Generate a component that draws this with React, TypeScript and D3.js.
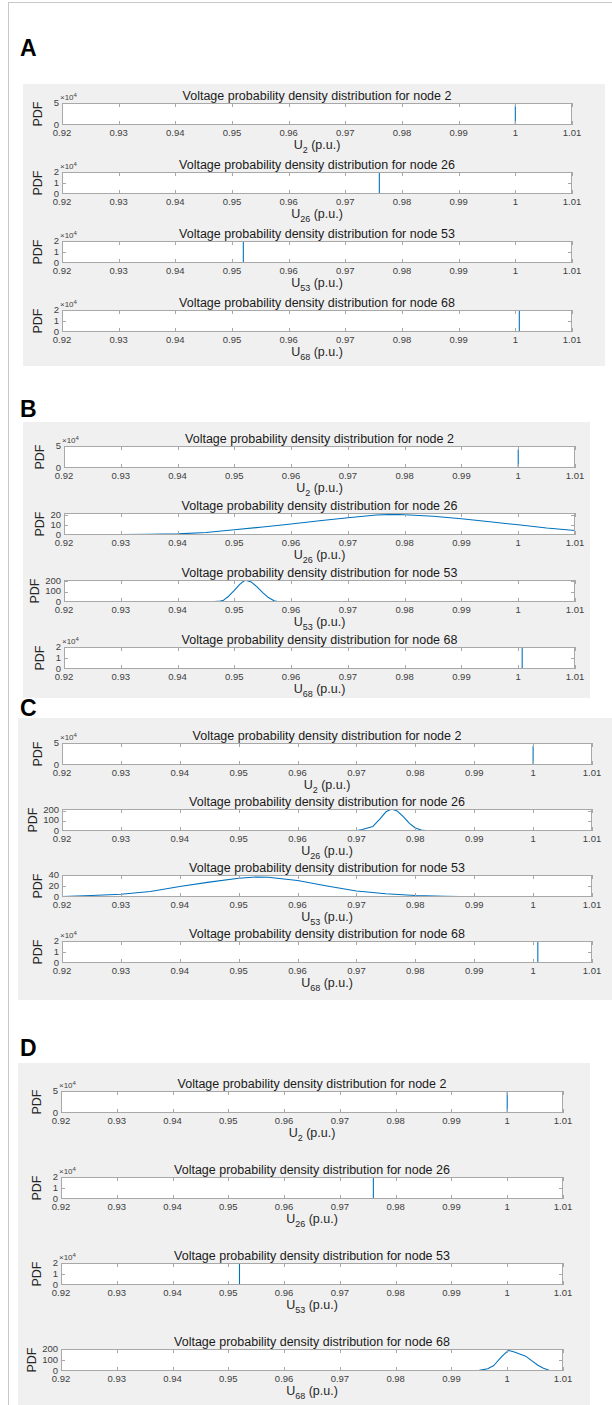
import * as d3 from 'd3';
import { useEffect, useRef } from 'react';

const W = 612;
const H = 1405;
const FONT = 'Liberation Sans, Arial, sans-serif';

// x axis (voltage, p.u.)
const xTicks = [0.92, 0.93, 0.94, 0.95, 0.96, 0.97, 0.98, 0.99, 1.0, 1.01];
const xTickLabels = ['0.92', '0.93', '0.94', '0.95', '0.96', '0.97', '0.98', '0.99', '1', '1.01'];
const nodes = [2, 26, 53, 68];
const panelLabels = ['A', 'B', 'C', 'D'];

// Panel A: all spikes
const a2 = [[1.0, 0], [1.0, 46000]];
const a26 = [[0.976, 0], [0.976, 20000]];
const a53 = [[0.952, 0], [0.952, 20000]];
const a68 = [[1.0007, 0], [1.0007, 20000]];

// Panel B
const b2 = [[1.0, 0], [1.0, 42000]];
const b26 = [
  [0.92, 0.3], [0.925, 0.4], [0.93, 0.5], [0.935, 0.7], [0.94, 1.1], [0.945, 2.5],
  [0.95, 5.2], [0.955, 8.0], [0.96, 11.0], [0.965, 14.2], [0.97, 17.3], [0.975, 20.0],
  [0.978, 20.6], [0.98, 20.3], [0.985, 18.8], [0.99, 16.2], [0.995, 13.2], [1.0, 10.2],
  [1.005, 7.0], [1.01, 4.5]
];
const b53 = [
  [0.944, 0], [0.946, 2], [0.9475, 8], [0.948, 13], [0.949, 55], [0.95, 110], [0.951, 170],
  [0.9518, 205], [0.952, 208], [0.953, 190], [0.954, 145], [0.955, 90], [0.956, 42],
  [0.957, 12], [0.958, 0]
];
const b68 = [[1.0007, 0], [1.0007, 20000]];

// Panel C
const c2 = [[1.0, 0], [1.0, 43000]];
const c26 = [
  [0.9697, 0], [0.971, 15], [0.9728, 45], [0.974, 120], [0.975, 190], [0.976, 218],
  [0.977, 195], [0.978, 140], [0.979, 75], [0.98, 30], [0.981, 10], [0.9825, 0]
];
const c53 = [
  [0.92, 1.0], [0.925, 2.8], [0.93, 5.0], [0.935, 10], [0.94, 19], [0.945, 27], [0.95, 34],
  [0.953, 36.5], [0.955, 36], [0.96, 30], [0.965, 20], [0.97, 11], [0.975, 6], [0.98, 2.8],
  [0.985, 1.2], [0.99, 0.5], [0.9925, 0.3]
];
const c68 = [[1.0008, 0], [1.0008, 20000]];

// Panel D
const d2 = [[1.0, 0], [1.0, 48000]];
const d26 = [[0.976, 0], [0.976, 20000]];
const d53 = [[0.952, 0], [0.952, 20000]];
const d68 = [
  [0.9913, 0], [0.993, 2], [0.995, 6], [0.9965, 20], [0.9976, 50], [0.999, 130],
  [1.0002, 187], [1.001, 178], [1.002, 160], [1.0033, 135], [1.0045, 90], [1.0055, 52],
  [1.0065, 25], [1.0075, 7], [1.0082, 0]
];

const seriesA = [a2, a26, a53, a68];
const seriesB = [b2, b26, b53, b68];
const seriesC = [c2, c26, c53, c68];
const seriesD = [d2, d26, d53, d68];

// y limits and tick steps per subplot
const yMaxA = [50000, 20000, 20000, 20000];
const yMaxB = [50000, 22, 210, 20000];
const yMaxC = [50000, 218, 40, 20000];
const yMaxD = [50000, 20000, 20000, 200];
const yStepA = [50000, 10000, 10000, 10000];
const yStepB = [50000, 10, 100, 10000];
const yStepC = [50000, 100, 20, 10000];
const yStepD = [50000, 10000, 10000, 100];

const panels = [
  { series: seriesA, yMax: yMaxA, yStep: yStepA, labelY: 56, box: [23, 84, 605, 366], ax: [62, 572], top: 103, pitch: 69, h: 22 },
  { series: seriesB, yMax: yMaxB, yStep: yStepB, labelY: 417, box: [23, 422, 590, 698], ax: [64, 575], top: 446, pitch: 67, h: 22 },
  { series: seriesC, yMax: yMaxC, yStep: yStepC, labelY: 716, box: [18, 718, 612, 1000], ax: [62, 592], top: 743, pitch: 66, h: 22 },
  { series: seriesD, yMax: yMaxD, yStep: yStepD, labelY: 1056, box: [18, 1063, 590, 1405], ax: [61, 563], top: 1091, pitch: 86, h: 22 }
];

const GRID = '#a8a8a8';
const TICK_TXT = '#404040';

export default function App() {
  const svgRef = useRef<SVGSVGElement>(null);

  useEffect(() => {
    const svg = d3.select(svgRef.current);
    svg.selectAll('*').remove();
    svg.attr('width', W).attr('height', H).attr('viewBox', [0, 0, W, H].join(' '));
    svg.append('rect').attr('width', W).attr('height', H).attr('fill', '#fff');

    // outer frame
    svg.append('line').attr('x1', 8.5).attr('x2', 8.5).attr('y1', 2).attr('y2', H).attr('stroke', '#c8c8c8');
    svg.append('line').attr('x1', 8).attr('x2', W).attr('y1', 2.5).attr('y2', 2.5).attr('stroke', '#c8c8c8');

    panels.forEach((p, pi) => {
      svg
        .append('text')
        .attr('x', 20)
        .attr('y', p.labelY)
        .attr('font-family', FONT)
        .attr('font-weight', 'bold')
        .attr('font-size', 23)
        .attr('fill', '#000')
        .text(panelLabels[pi]);

      const [bx0, by0, bx1, by1] = p.box;
      svg.append('rect').attr('x', bx0).attr('y', by0).attr('width', bx1 - bx0).attr('height', by1 - by0).attr('fill', '#f0f0f0');

      nodes.forEach((node, i) => {
        const T = p.top + i * p.pitch;
        const B = T + p.h;
        const [l, r] = p.ax;
        const yMax = p.yMax[i];
        const sci = yMax >= 10000;
        const x = d3.scaleLinear().domain([0.92, 1.01]).range([l, r]);
        const y = d3.scaleLinear().domain([0, yMax]).range([B, T]);
        const g = svg.append('g');

        g.append('rect').attr('x', l).attr('y', T).attr('width', r - l).attr('height', p.h).attr('fill', '#fff');

        const clipId = `clip-${pi}-${i}`;
        g.append('clipPath').attr('id', clipId).append('rect').attr('x', l).attr('y', T).attr('width', r - l).attr('height', p.h);
        const line = d3
          .line<number[]>()
          .x((d) => x(d[0]))
          .y((d) => y(d[1]));
        g.append('path')
          .datum(p.series[i])
          .attr('clip-path', `url(#${clipId})`)
          .attr('fill', 'none')
          .attr('stroke', '#0072BD')
          .attr('stroke-width', 1.1)
          .attr('stroke-linejoin', 'round')
          .attr('d', line);

        // box
        g.append('rect')
          .attr('x', l + 0.5)
          .attr('y', T + 0.5)
          .attr('width', r - l - 1)
          .attr('height', p.h - 1)
          .attr('fill', 'none')
          .attr('stroke', GRID);

        // x ticks (inside, top and bottom)
        xTicks.forEach((t, k) => {
          const xx = Math.round(x(t)) + 0.5;
          g.append('line').attr('x1', xx).attr('x2', xx).attr('y1', B).attr('y2', B - 4).attr('stroke', GRID);
          g.append('line').attr('x1', xx).attr('x2', xx).attr('y1', T).attr('y2', T + 4).attr('stroke', GRID);
          g.append('text')
            .attr('x', x(t))
            .attr('y', B + 11)
            .attr('text-anchor', 'middle')
            .attr('font-family', FONT)
            .attr('font-size', 9.5)
            .attr('fill', TICK_TXT)
            .text(xTickLabels[k]);
        });

        // y ticks
        const yTicks = d3.range(0, yMax + 1e-9, p.yStep[i]);
        yTicks.forEach((t) => {
          const yy = Math.round(y(t)) + 0.5;
          if (t > 0 && t < yMax) {
            g.append('line').attr('x1', l).attr('x2', l + 4).attr('y1', yy).attr('y2', yy).attr('stroke', GRID);
            g.append('line').attr('x1', r).attr('x2', r - 4).attr('y1', yy).attr('y2', yy).attr('stroke', GRID);
          }
          g.append('text')
            .attr('x', l - 3)
            .attr('y', y(t) + 2.5)
            .attr('text-anchor', 'end')
            .attr('font-family', FONT)
            .attr('font-size', 9.5)
            .attr('fill', TICK_TXT)
            .text(sci ? String(t / 10000) : String(t));
        });

        if (sci) {
          const ex = g
            .append('text')
            .attr('x', l - 2)
            .attr('y', T - 3)
            .attr('font-family', FONT)
            .attr('font-size', 8)
            .attr('fill', TICK_TXT);
          ex.append('tspan').text('×10');
          ex.append('tspan').attr('font-size', 6).attr('dy', -3).text('4');
        }

        // y label
        g.append('text')
          .attr('transform', `translate(${l - (yMax >= 100 && !sci ? 25 : 20)},${T + p.h / 2}) rotate(-90)`)
          .attr('text-anchor', 'middle')
          .attr('font-family', FONT)
          .attr('font-size', 12.5)
          .attr('fill', '#262626')
          .text('PDF');

        // title
        g.append('text')
          .attr('x', (l + r) / 2)
          .attr('y', T - 3)
          .attr('text-anchor', 'middle')
          .attr('font-family', FONT)
          .attr('font-size', 12.5)
          .attr('fill', '#1a1a1a')
          .text(`Voltage probability density distribution for node ${node}`);

        // x label with subscript
        const xl = g
          .append('text')
          .attr('x', (l + r) / 2)
          .attr('y', B + 24)
          .attr('text-anchor', 'middle')
          .attr('font-family', FONT)
          .attr('font-size', 12.5)
          .attr('fill', '#262626');
        xl.append('tspan').text('U');
        xl.append('tspan').attr('font-size', 9).attr('dy', 4).text(String(node));
        xl.append('tspan').attr('dy', -4).text(' (p.u.)');
      });
    });
  });

  return (
    <div style={{ position: 'absolute', left: 0, top: 0 }}>
      <svg ref={svgRef} style={{ display: 'block' }}></svg>
    </div>
  );
}
